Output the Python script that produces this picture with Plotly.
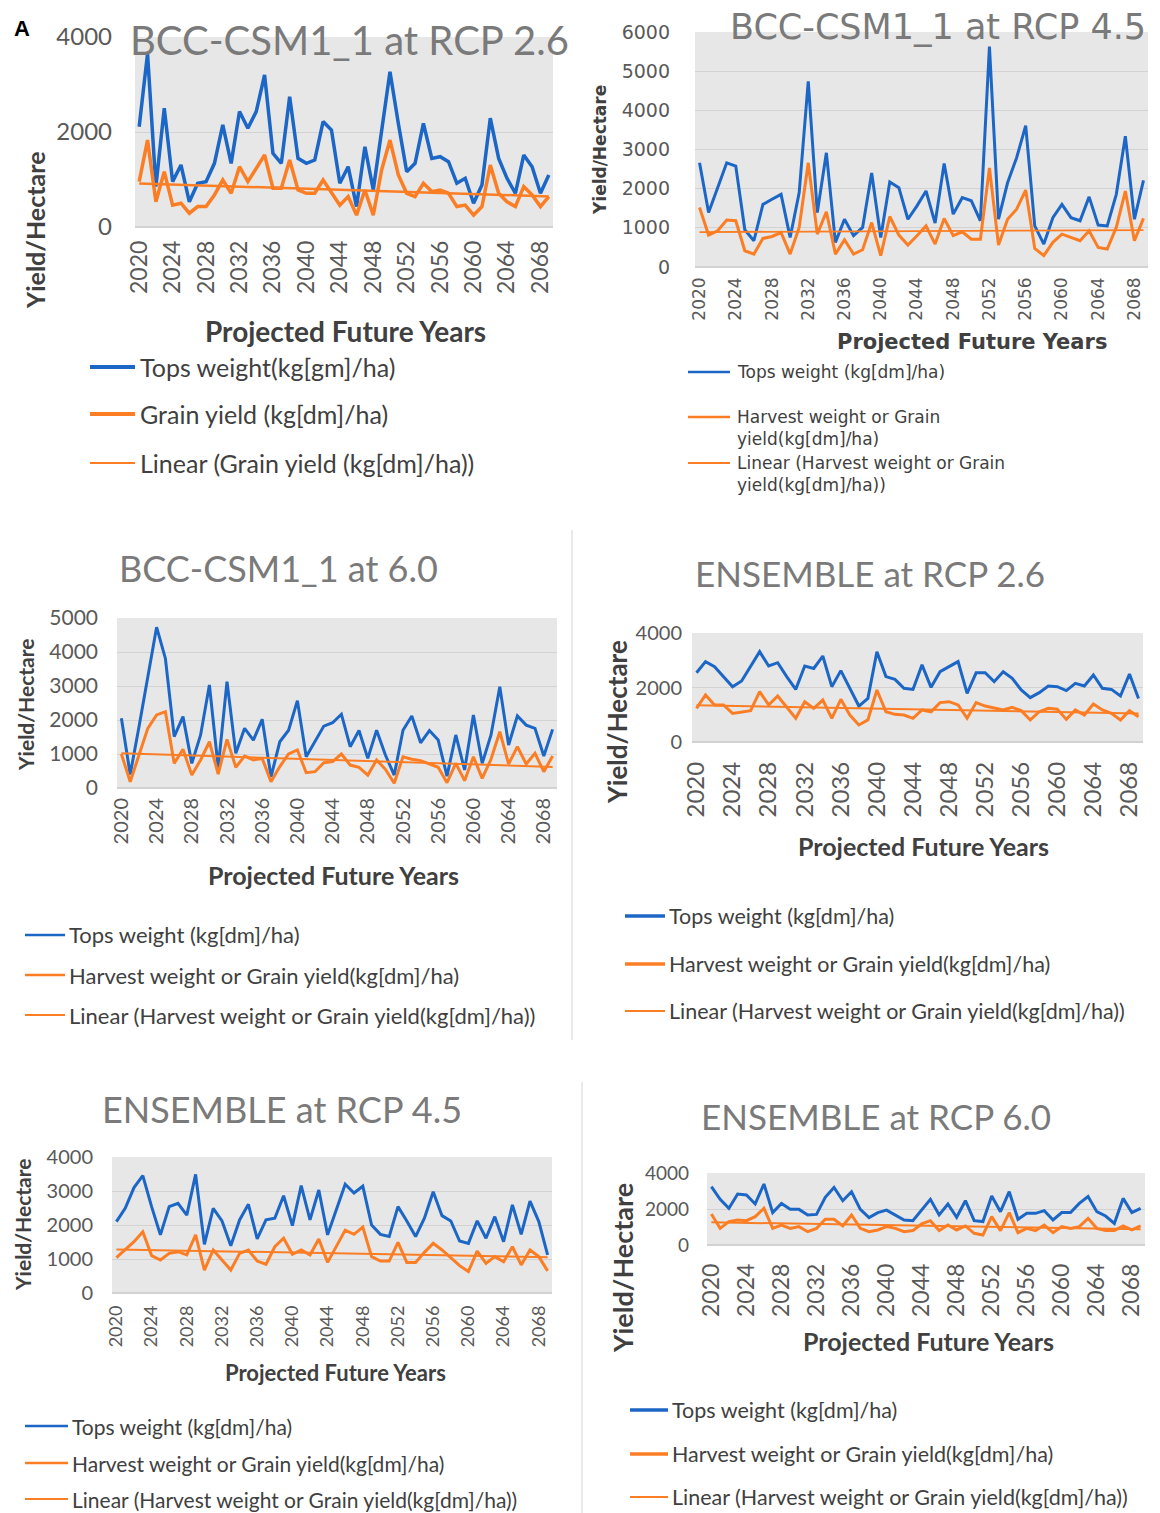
"""Six crop-yield panels (BCC-CSM1_1 and ENSEMBLE, RCP 2.6 / 4.5 / 6.0), 2020-2069."""
import numpy as np
import plotly.graph_objects as go

YEARS = list(range(2020, 2070))
TICK_YEARS = list(range(2020, 2069, 4))

# BCC-CSM1_1 at RCP 2.6
TOPS_BCC26 = [2110, 3650, 850, 2500, 955, 1305, 530, 920, 955, 1340,
              2150, 1340, 2430, 2080, 2430, 3200, 1550, 1340, 2745, 1445,
              1340, 1410, 2220, 2040, 920, 1270, 430, 1690, 780, 2040,
              3270, 2180, 1165, 1340, 2180, 1445, 1480, 1375, 920, 1025,
              500, 885, 2290, 1445, 1025, 710, 1515, 1270, 710, 1095]
GRAIN_BCC26 = [955, 1830, 530, 1165, 460, 500, 290, 430, 430, 675,
               990, 710, 1270, 955, 1235, 1515, 815, 815, 1410, 780,
               710, 710, 990, 710, 460, 640, 250, 780, 250, 1200,
               1830, 1095, 710, 640, 920, 745, 780, 710, 430, 460,
               250, 430, 1305, 710, 530, 430, 850, 675, 430, 640]

# BCC-CSM1_1 at RCP 4.5
TOPS_BCC45 = [2660, 1390, 2025, 2660, 2575, 950, 670, 1600, 1730, 1855,
              755, 1900, 4740, 1390, 2915, 630, 1220, 800, 1010, 2400,
              755, 2170, 2025, 1220, 1560, 1940, 1120, 2640, 1350, 1770,
              1690, 1180, 5630, 1220, 2150, 2790, 3610, 1050, 585, 1260,
              1600, 1260, 1180, 1790, 1070, 1050, 1855, 3340, 1220, 2210]
GRAIN_BCC45 = [1520, 815, 925, 1200, 1180, 415, 330, 730, 780, 880,
               330, 1010, 2660, 840, 1410, 330, 695, 330, 440, 1135,
               290, 1290, 815, 560, 800, 1050, 585, 1240, 800, 900,
               710, 710, 2530, 560, 1220, 1475, 1965, 475, 290, 630,
               840, 755, 670, 925, 500, 460, 1010, 1940, 670, 1240]

# BCC-CSM1_1 at 6.0
TOPS_BCC60 = [2050, 400, 1800, 3250, 4730, 3810, 1510, 2100, 725, 1560,
              3030, 600, 3130, 1020, 1755, 1410, 2020, 330, 1360, 1700,
              2570, 920, 1360, 1820, 1920, 2170, 1215, 1690, 870, 1700,
              970, 380, 1700, 2120, 1330, 1690, 1410, 350, 1560, 530,
              2150, 725, 1560, 2980, 1265, 2120, 1850, 1755, 940, 1725]
GRAIN_BCC60 = [1000, 185, 970, 1755, 2150, 2245, 725, 1140, 380, 825,
               1360, 410, 1430, 610, 940, 825, 870, 185, 630, 1000,
               1120, 450, 480, 745, 775, 1000, 675, 610, 380, 825,
               550, 140, 920, 845, 805, 705, 610, 155, 725, 215,
               920, 285, 845, 1655, 705, 1215, 705, 1020, 480, 940]

# ENSEMBLE at RCP 2.6
TOPS_ENS26 = [2540, 2950, 2765, 2400, 2030, 2240, 2790, 3315, 2790, 2910,
              2400, 1930, 2790, 2700, 3155, 2030, 2620, 1970, 1320, 1600,
              3315, 2400, 2300, 1970, 1930, 2830, 2005, 2580, 2765, 2950,
              1785, 2540, 2540, 2215, 2580, 2335, 1910, 1630, 1810, 2055,
              2030, 1885, 2150, 2055, 2460, 1970, 1930, 1690, 2495, 1600]
GRAIN_ENS26 = [1235, 1725, 1360, 1360, 1050, 1110, 1150, 1845, 1360, 1690,
               1300, 870, 1480, 1235, 1540, 870, 1565, 990, 625, 810,
               1910, 1110, 1015, 990, 870, 1175, 1110, 1445, 1480, 1360,
               870, 1445, 1320, 1235, 1175, 1270, 1150, 810, 1110, 1235,
               1200, 830, 1175, 990, 1395, 1175, 1050, 810, 1150, 930]

# ENSEMBLE at RCP 4.5
TOPS_ENS45 = [2100, 2490, 3100, 3450, 2540, 1710, 2540, 2640, 2290, 3490,
              1430, 2490, 2120, 1390, 2150, 2610, 1590, 2150, 2200, 2860,
              1980, 3160, 2150, 3030, 1710, 2470, 3200, 2940, 3140, 2000,
              1725, 1660, 2540, 2120, 1660, 2200, 2980, 2275, 2120, 1530,
              1460, 2120, 1610, 2245, 1510, 2590, 1725, 2700, 2100, 1120]
GRAIN_ENS45 = [1040, 1265, 1510, 1800, 1100, 970, 1165, 1215, 1120, 1710,
               675, 1265, 970, 675, 1165, 1265, 940, 845, 1360, 1610,
               1140, 1265, 1120, 1590, 900, 1360, 1850, 1725, 1940, 1070,
               940, 940, 1490, 900, 900, 1195, 1460, 1265, 1020, 805,
               630, 1235, 870, 1070, 920, 1360, 825, 1265, 1070, 650]

# ENSEMBLE at RCP 6.0
TOPS_ENS60 = [3240, 2540, 2040, 2830, 2780, 2280, 3390, 1800, 2310, 1980,
              1980, 1670, 1700, 2650, 3200, 2460, 2960, 1980, 1520, 1800,
              1940, 1670, 1390, 1350, 1940, 2540, 1670, 2280, 1540, 2460,
              1350, 1300, 2720, 1850, 2960, 1430, 1760, 1760, 1910, 1390,
              1800, 1800, 2310, 2690, 1850, 1610, 1200, 2590, 1800, 2040]
GRAIN_ENS60 = [1720, 925, 1300, 1390, 1350, 1575, 2040, 925, 1110, 925,
               1020, 740, 925, 1430, 1430, 1060, 1670, 925, 740, 835,
               1020, 925, 740, 800, 1170, 1350, 800, 1110, 835, 1060,
               650, 555, 1575, 800, 1800, 685, 925, 800, 1110, 685,
               1020, 925, 1020, 1480, 925, 800, 800, 1060, 835, 1060]

TITLES = ["BCC-CSM1_1 at RCP 2.6", "BCC-CSM1_1 at RCP 4.5", "BCC-CSM1_1 at 6.0",
          "ENSEMBLE at RCP 2.6", "ENSEMBLE at RCP 4.5", "ENSEMBLE at RCP 6.0"]

LEG_P1 = ["Tops weight(kg[gm]/ha)", "Grain yield (kg[dm]/ha)",
          "Linear (Grain yield (kg[dm]/ha))"]
LEG_P2 = ["Tops weight (kg[dm]/ha)", "Harvest weight or Grain<br>yield(kg[dm]/ha)",
          "Linear (Harvest weight or Grain<br>yield(kg[dm]/ha))"]
LEG_STD = ["Tops weight (kg[dm]/ha)", "Harvest weight or Grain yield(kg[dm]/ha)",
           "Linear (Harvest weight or Grain yield(kg[dm]/ha))"]

BLUE = "#1c66c6"
ORANGE = "#fb7d24"
TICK_GREY = "#595959"
TITLE_GREY = "#7a7a7a"
AXIS_TITLE = "#404040"
W, H = 1160, 1513
CAL = "Lato, 'Noto Sans', sans-serif"
VER = "'DejaVu Sans', Verdana, sans-serif"


def px(x):
    return x / W


def py(y):
    return 1 - y / H


# pixel geometry for every panel, measured on the original page
PANELS = [
    dict(tops=TOPS_BCC26, grain=GRAIN_BCC26, legend=LEG_P1, font=CAL,
         box=(135, 553, 37, 227), ymax=4000, dtick=2000, yfs=24, xfs=23,
         ysoff=22, xsoff=8, lw=3.5, tw=2.5,
         title=(349, 40, 40), ytitle=(35, 230, 25), xtitle=(345, 331, 28),
         leg=(90, 135, 138, [367, 414, 463], 25, 4.0, 2.2)),
    dict(tops=TOPS_BCC45, grain=GRAIN_BCC45, legend=LEG_P2, font=VER,
         box=(695, 1148, 32, 267), ymax=6000, dtick=1000, yfs=19, xfs=17,
         ysoff=24, xsoff=6, lw=3.0, tw=1.8,
         title=(938, 27, 35), ytitle=(600, 150, 17), xtitle=(972, 342, 21),
         leg=(688, 730, 735, [372, 417, 463], 17, 2.5, 1.8)),
    dict(tops=TOPS_BCC60, grain=GRAIN_BCC60, legend=LEG_STD, font=CAL,
         box=(117, 557, 618, 788), ymax=5000, dtick=1000, yfs=21, xfs=20,
         ysoff=18, xsoff=5, lw=3.0, tw=2.0,
         title=(278, 568, 36), ytitle=(25, 705, 21), xtitle=(333, 875, 25),
         leg=(25, 65, 67, [935, 975, 1015], 22, 2.5, 2.0)),
    dict(tops=TOPS_ENS26, grain=GRAIN_ENS26, legend=LEG_STD, font=CAL,
         box=(692, 1143, 633, 742), ymax=4000, dtick=2000, yfs=20, xfs=24,
         ysoff=9, xsoff=14, lw=3.0, tw=2.0,
         title=(870, 573, 35), ytitle=(617, 722, 26), xtitle=(923, 846, 25),
         leg=(625, 665, 667, [916, 964, 1011], 21.5, 3.5, 2.0)),
    dict(tops=TOPS_ENS45, grain=GRAIN_ENS45, legend=LEG_STD, font=CAL,
         box=(112, 552, 1157, 1293), ymax=4000, dtick=1000, yfs=20, xfs=18,
         ysoff=18, xsoff=8, lw=3.0, tw=2.0,
         title=(282, 1109, 36), ytitle=(22, 1225, 21), xtitle=(335, 1372, 22),
         leg=(25, 68, 70, [1426, 1463, 1499], 21, 2.5, 2.0)),
    dict(tops=TOPS_ENS60, grain=GRAIN_ENS60, legend=LEG_STD, font=CAL,
         box=(707, 1145, 1173, 1245), ymax=4000, dtick=2000, yfs=19, xfs=23,
         ysoff=17, xsoff=13, lw=3.0, tw=2.0,
         title=(876, 1116, 35), ytitle=(622, 1268, 27), xtitle=(928, 1341, 25),
         leg=(630, 668, 670, [1410, 1454, 1497], 21.5, 3.5, 2.0)),
]

fig = go.Figure()
annotations = []
shapes = []
layout_axes = {}

for i, (p, title) in enumerate(zip(PANELS, TITLES)):
    n = "" if i == 0 else str(i + 1)
    xa, ya = f"x{n}", f"y{n}"
    left, right, top, bottom = p["box"]

    # Excel "Linear" trendline of the grain series
    slope, icpt = np.polyfit(YEARS, p["grain"], 1)
    trend = [slope * yr + icpt for yr in YEARS]

    fig.add_trace(go.Scatter(x=YEARS, y=p["tops"], mode="lines", xaxis=xa, yaxis=ya,
                             line=dict(color=BLUE, width=p["lw"]), showlegend=False))
    fig.add_trace(go.Scatter(x=YEARS, y=p["grain"], mode="lines", xaxis=xa, yaxis=ya,
                             line=dict(color=ORANGE, width=p["lw"]), showlegend=False))
    fig.add_trace(go.Scatter(x=YEARS, y=trend, mode="lines", xaxis=xa, yaxis=ya,
                             line=dict(color=ORANGE, width=p["tw"]), showlegend=False))

    layout_axes[f"xaxis{n}"] = dict(
        domain=[px(left), px(right)], anchor=ya, range=[2019.5, 2069.5],
        tickvals=TICK_YEARS, ticktext=[str(t) for t in TICK_YEARS], tickangle=-90,
        tickfont=dict(family=p["font"], size=p["xfs"], color=TICK_GREY),
        ticklabelstandoff=p["xsoff"], showgrid=False, zeroline=False, showline=False,
        fixedrange=True, automargin=False,
    )
    layout_axes[f"yaxis{n}"] = dict(
        domain=[py(bottom), py(top)], anchor=xa, range=[0, p["ymax"]], dtick=p["dtick"],
        tickfont=dict(family=p["font"], size=p["yfs"], color=TICK_GREY),
        ticklabelstandoff=p["ysoff"], showgrid=True, gridcolor="#d2d2d2", gridwidth=1,
        zeroline=True, zerolinecolor="#d2d2d2", showline=False, fixedrange=True,
        automargin=False,
    )

    tx, ty, tfs = p["title"]
    annotations.append(dict(text=title, x=px(tx), y=py(ty), xref="paper", yref="paper",
                            showarrow=False, xanchor="center", yanchor="middle",
                            font=dict(family=p["font"], size=tfs, color=TITLE_GREY)))
    yx, yy, yfs = p["ytitle"]
    annotations.append(dict(text="<b>Yield/Hectare</b>", x=px(yx), y=py(yy), xref="paper",
                            yref="paper", showarrow=False, textangle=-90,
                            xanchor="center", yanchor="middle",
                            font=dict(family=p["font"], size=yfs, color=AXIS_TITLE)))
    xx, xy, xfs = p["xtitle"]
    annotations.append(dict(text="<b>Projected Future Years</b>", x=px(xx), y=py(xy),
                            xref="paper", yref="paper", showarrow=False,
                            xanchor="center", yanchor="middle",
                            font=dict(family=p["font"], size=xfs, color=AXIS_TITLE)))

    lx0, lx1, ltx, rows, lfs, lw_main, lw_trend = p["leg"]
    for label, row, color, w in zip(p["legend"], rows, [BLUE, ORANGE, ORANGE],
                                    [lw_main, lw_main, lw_trend]):
        shapes.append(dict(type="line", xref="paper", yref="paper",
                           x0=px(lx0), x1=px(lx1), y0=py(row), y1=py(row),
                           line=dict(color=color, width=w)))
        two_line = "<br>" in label
        annotations.append(dict(text=label, x=px(ltx),
                                y=py(row - lfs * 0.7) if two_line else py(row),
                                xref="paper", yref="paper", showarrow=False,
                                xanchor="left", yanchor="top" if two_line else "middle",
                                align="left",
                                font=dict(family=p["font"], size=lfs, color=AXIS_TITLE)))

annotations.append(dict(text="<b>A</b>", x=px(12), y=py(28), xref="paper", yref="paper",
                        showarrow=False, xanchor="left", yanchor="middle",
                        font=dict(family="'Liberation Sans', Arial, sans-serif",
                                  size=22, color="black")))

# light panel separators
for x0, y0, y1 in [(572, 530, 1040), (582, 1082, 1513)]:
    shapes.append(dict(type="line", xref="paper", yref="paper", x0=px(x0), x1=px(x0),
                       y0=py(y0), y1=py(y1), line=dict(color="#e2e2e2", width=1.5)))

fig.update_layout(
    width=W, height=H, margin=dict(l=0, r=0, t=0, b=0),
    paper_bgcolor="white", plot_bgcolor="#e7e7e7",
    annotations=annotations, shapes=shapes, showlegend=False,
    **layout_axes,
)

# drop the browser's default 8px body margin so page pixels line up with the figure
fig.write_html("out.html", config={"displayModeBar": False},
               post_script="document.body.style.margin='0px';")
